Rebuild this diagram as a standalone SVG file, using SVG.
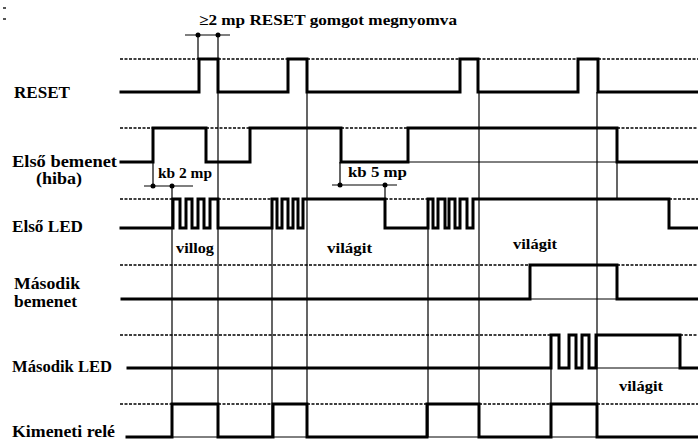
<svg xmlns="http://www.w3.org/2000/svg" width="698" height="441" viewBox="0 0 698 441">
<style>
.sig{fill:none;stroke:#000;stroke-width:3;stroke-linejoin:miter;stroke-linecap:square}
.base{fill:none;stroke:#000;stroke-width:1}
.dash{fill:none;stroke:#000;stroke-width:1.3;stroke-dasharray:3,1.5}
.thin{fill:none;stroke:#000;stroke-width:1.2}
.lbl{font-family:"Liberation Serif","Times New Roman",serif;font-weight:bold;font-size:16px;fill:#000}
.sm{font-family:"Liberation Serif","Times New Roman",serif;font-weight:bold;font-size:15px;fill:#000}
</style>
<rect width="698" height="441" fill="#fff"/>
<rect x="3" y="7" width="3" height="2" fill="#555"/>
<rect x="3" y="18" width="3" height="2" fill="#555"/>

<g id="connectors">
  <!-- dashed high-level references -->
  <path class="dash" d="M120,59H199M218,59H288M307,59H460M478,59H578M598,59H698"/>
  <path class="dash" d="M120,128H153M206,128H250M341,128H408M617,128H698"/>
  <path class="dash" d="M120,199H173M218,199H272M385,199H428M669,199H698"/>
  <path class="dash" d="M120,265H530M617,265H698"/>
  <path class="dash" d="M120,335H551M680,335H698"/>
  <path class="dash" d="M120,404H172M218,404H273M307,404H427M479,404H551M597,404H698"/>
  <!-- thin baselines under highs -->
  <path class="base" d="M408,162H617M530,299H617M597,368H680M172,437H218M273,437H307M427,437H479M551,437H597"/>
  <!-- thin vertical timing lines -->
  <path class="thin" d="M218,92V437M172,186V437M272,199V437M307,92V437M428,199V437M479,92V437M551,335V437M597,92V437"/>
  <path class="thin" d="M153,162V186M340,162V186M385,186V199M617,162V199"/>
  <!-- top dimension -->
  <path class="thin" d="M185,35H230M198,35V59M218,35V59"/>
  <circle cx="198" cy="35" r="2.5"/>
  <circle cx="218" cy="35" r="2.5"/>
  <!-- kb 2 mp -->
  <path class="thin" d="M144,186H193"/>
  <circle cx="153" cy="186" r="2.5"/>
  <circle cx="172" cy="186" r="2.5"/>
  <!-- kb 5 mp -->
  <path class="thin" d="M332,185H397"/>
  <circle cx="340" cy="185" r="2.5"/>
  <circle cx="385" cy="185" r="2.5"/>
</g>

<g id="reset">
  <path class="sig" d="M121,92H199V59H218V92H288V59H307V92H460V59H478V92H578V59H598V92H698"/>
  <text class="lbl" x="14" y="98" textLength="56" lengthAdjust="spacingAndGlyphs">RESET</text>
</g>

<g id="elso-bemenet">
  <path class="sig" d="M121,162H153V128H206V162H250V128H341V162H408V128H617V162H698"/>
  <text class="lbl" x="12" y="167" textLength="105" lengthAdjust="spacingAndGlyphs">Első bemenet</text>
  <text class="lbl" x="36" y="184" textLength="46" lengthAdjust="spacingAndGlyphs">(hiba)</text>
</g>

<g id="elso-led">
  <path class="sig" d="M121,228H173V199H180V228H186V199H192V228H198V199H204V228H210V199H218V228H272V199H277V228H282V199H288V228H293V199H298V228H303V199H385V228H428V199H433V228H438V199H445V228H449V199H455V228H460V199H467V228H473V199H669V228H698"/>
  <text class="lbl" x="12" y="232" textLength="71" lengthAdjust="spacingAndGlyphs">Első LED</text>
  <text class="sm" x="176" y="253" textLength="38" lengthAdjust="spacingAndGlyphs">villog</text>
  <text class="sm" x="327" y="253" textLength="45" lengthAdjust="spacingAndGlyphs">világit</text>
  <text class="sm" x="513" y="249" textLength="44" lengthAdjust="spacingAndGlyphs">világit</text>
</g>

<g id="masodik-bemenet">
  <path class="sig" d="M122,299H530V265H617V299H698"/>
  <text class="lbl" x="14" y="289" textLength="66" lengthAdjust="spacingAndGlyphs">Második</text>
  <text class="lbl" x="14" y="307" textLength="63" lengthAdjust="spacingAndGlyphs">bemenet</text>
</g>

<g id="masodik-led">
  <path class="sig" d="M128,368H551V335H559V368H569V335H576V368H582V335H589V368H596V335H680V368H698"/>
  <text class="lbl" x="12" y="372" textLength="100" lengthAdjust="spacingAndGlyphs">Második LED</text>
  <text class="sm" x="619" y="391" textLength="44" lengthAdjust="spacingAndGlyphs">világit</text>
</g>

<g id="kimeneti-rele">
  <path class="sig" d="M127,437H172V404H218V437H273V404H307V437H427V404H479V437H551V404H597V437H698"/>
  <text class="lbl" x="12" y="437" textLength="103" lengthAdjust="spacingAndGlyphs">Kimeneti relé</text>
</g>

<g id="annotations">
  <text class="sm" x="199" y="25" textLength="258" lengthAdjust="spacingAndGlyphs">≥2 mp RESET gomgot megnyomva</text>
  <text class="sm" x="158" y="178" textLength="54" lengthAdjust="spacingAndGlyphs">kb 2 mp</text>
  <text class="sm" x="348" y="177" textLength="59" lengthAdjust="spacingAndGlyphs">kb 5 mp</text>
</g>
</svg>
